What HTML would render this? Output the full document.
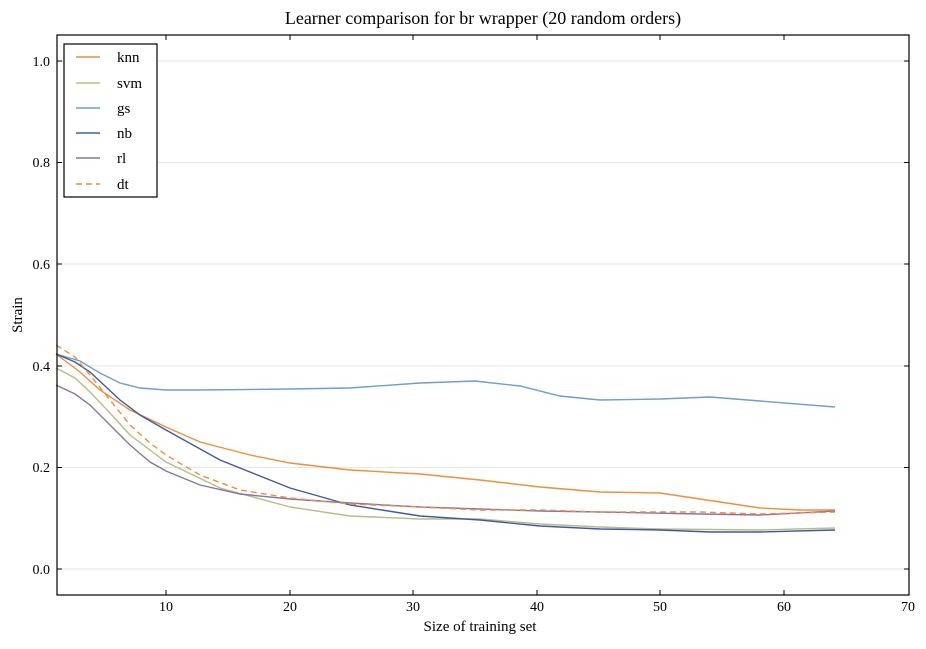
<!DOCTYPE html><html><head><style>body{margin:0;background:#fff}svg{font-family:"Liberation Serif",serif}</style></head><body>
<svg width="926" height="644" xmlns="http://www.w3.org/2000/svg">
<rect width="926" height="644" fill="#fff"/>
<g stroke="#e6e6e6" stroke-width="1">
<line x1="57" x2="909" y1="569" y2="569"/><line x1="57" x2="909" y1="467.5" y2="467.5"/><line x1="57" x2="909" y1="366" y2="366"/><line x1="57" x2="909" y1="264" y2="264"/><line x1="57" x2="909" y1="162.5" y2="162.5"/><line x1="57" x2="909" y1="61" y2="61"/>
</g>
<g fill="none" stroke-width="1.4">
<polyline stroke="#f28e3b" points="56,354 80,372 100,390 130,410 166,427 200,442 250,455 290,463 350,470 420,474 480,480 540,487 600,492 660,493 700,499 760,508 800,510 835,510"/>
<polyline stroke="#b5bf85" points="56,368 75,378 90,392 110,413 130,435 166,462 220,488 290,507 350,516 420,519 480,519 540,524 600,527 660,529 760,530 835,528"/>
<polyline stroke="#6a9fd0" points="56,354 80,361 100,373 120,383 140,388 166,390 200,390 290,389 350,388 420,383 475,381 520,386 560,396 600,400 660,399 710,397 760,401 835,407"/>
<polyline stroke="#4158a8" points="56,354 75,362 90,372 105,386 120,400 140,415 166,430 220,460 290,488 350,505 420,516 480,520 540,526 600,529 660,530 710,532 760,532 835,530"/>
<polyline stroke="#8675a8" points="56,385 75,394 90,405 110,425 130,445 150,462 166,471 200,485 240,494 290,499 350,503 420,507 480,509 540,511 600,512 700,514 760,515 835,511"/>
<polyline stroke="#f28e3b" stroke-dasharray="6,4" points="56,345 75,357 90,375 110,400 130,425 150,443 166,455 200,475 240,490 290,498 350,504 420,507 480,510 540,510 600,512 700,512 760,514 835,512"/>
</g>
<rect x="57" y="35" width="852" height="560" fill="none" stroke="#000" stroke-width="1.2"/>
<g stroke="#000">
<line x1="166" x2="166" y1="595" y2="590"/><line x1="290" x2="290" y1="595" y2="590"/><line x1="413" x2="413" y1="595" y2="590"/><line x1="537" x2="537" y1="595" y2="590"/><line x1="660" x2="660" y1="595" y2="590"/><line x1="784" x2="784" y1="595" y2="590"/>
<line x1="166" x2="166" y1="35" y2="40"/><line x1="290" x2="290" y1="35" y2="40"/><line x1="413" x2="413" y1="35" y2="40"/><line x1="537" x2="537" y1="35" y2="40"/><line x1="660" x2="660" y1="35" y2="40"/><line x1="784" x2="784" y1="35" y2="40"/>
<line x1="57" x2="62" y1="569" y2="569"/><line x1="57" x2="62" y1="467.5" y2="467.5"/><line x1="57" x2="62" y1="366" y2="366"/><line x1="57" x2="62" y1="264" y2="264"/><line x1="57" x2="62" y1="162.5" y2="162.5"/><line x1="57" x2="62" y1="61" y2="61"/>
<line x1="909" x2="904" y1="569" y2="569"/><line x1="909" x2="904" y1="467.5" y2="467.5"/><line x1="909" x2="904" y1="366" y2="366"/><line x1="909" x2="904" y1="264" y2="264"/><line x1="909" x2="904" y1="162.5" y2="162.5"/><line x1="909" x2="904" y1="61" y2="61"/>
</g>
<g font-size="14" text-anchor="middle">
<text x="166" y="611">10</text><text x="290" y="611">20</text><text x="413" y="611">30</text><text x="537" y="611">40</text><text x="660" y="611">50</text><text x="784" y="611">60</text><text x="908" y="611">70</text>
</g>
<g font-size="14" text-anchor="end">
<text x="50" y="574">0.0</text><text x="50" y="472">0.2</text><text x="50" y="371">0.4</text><text x="50" y="269">0.6</text><text x="50" y="167">0.8</text><text x="50" y="66">1.0</text>
</g>
<text x="480" y="631" font-size="15" text-anchor="middle">Size of training set</text>
<text transform="translate(22,315) rotate(-90)" font-size="15" text-anchor="middle">Strain</text>
<text x="483" y="24" font-size="18" text-anchor="middle">Learner comparison for br wrapper (20 random orders)</text>
<rect x="64" y="44" width="93" height="153" fill="#fff" stroke="#000" stroke-width="1.2"/>
<g stroke-width="1.4">
<line x1="76" x2="100" y1="57" y2="57" stroke="#f28e3b"/>
<line x1="76" x2="100" y1="83" y2="83" stroke="#b5bf85"/>
<line x1="76" x2="100" y1="108" y2="108" stroke="#6a9fd0"/>
<line x1="76" x2="100" y1="133" y2="133" stroke="#4158a8"/>
<line x1="76" x2="100" y1="158" y2="158" stroke="#8675a8"/>
<line x1="76" x2="100" y1="184" y2="184" stroke="#f28e3b" stroke-dasharray="6,4"/>
</g>
<g font-size="15">
<text x="117" y="62">knn</text><text x="117" y="88">svm</text><text x="117" y="113">gs</text><text x="117" y="138">nb</text><text x="117" y="163">rl</text><text x="117" y="189">dt</text>
</g>
</svg></body></html>
